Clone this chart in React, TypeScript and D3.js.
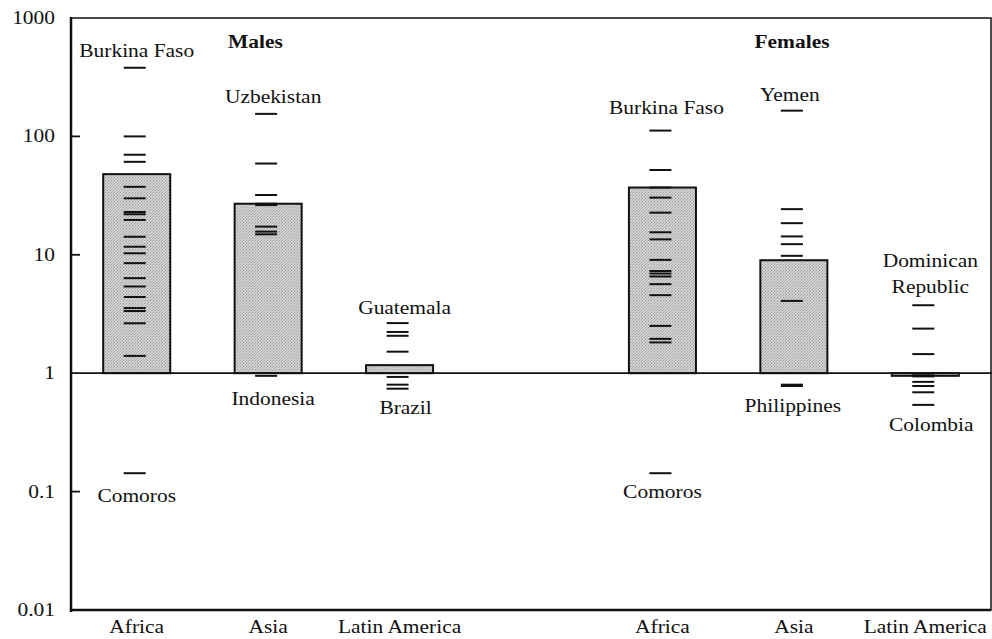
import React from 'react';
import * as d3 from 'd3';

// slots along the x axis (one empty slot between the sexes)
const slots = ['mAfrica', 'mAsia', 'mLatAm', 'gap', 'fAfrica', 'fAsia', 'fLatAm'];
const slotLabels = ['Africa', 'Asia', 'Latin America', '', 'Africa', 'Asia', 'Latin America'];

// regional bar values (ratio, log scale, baseline 1)
const barSlots = ['mAfrica', 'mAsia', 'mLatAm', 'fAfrica', 'fAsia', 'fLatAm'];
const barValues = [48, 27, 1.17, 37, 9, 0.95];

// country values shown as dashes
const maleAfrica = [380, 100, 70, 61, 37.5, 30, 23, 22, 19.7, 14.2, 11.7, 10.3, 8.5, 6.35, 5.4, 4.4, 3.55, 3.35, 2.64, 1.4, 0.143];
const maleAsia = [155, 59, 32, 27, 26.3, 17.3, 15.7, 14.9, 0.95];
const maleLatAm = [2.65, 2.23, 2.07, 1.52, 0.93, 0.8, 0.74];
const femaleAfrica = [112, 52, 37, 30.4, 22.7, 15.5, 13.5, 9.06, 7.3, 6.95, 6.56, 5.65, 4.56, 2.51, 1.95, 1.82, 0.143];
const femaleAsia = [165, 24.3, 18.5, 14.3, 12.3, 9.8, 4.08, 0.8, 0.78];
const femaleLatAm = [3.75, 2.38, 1.45, 0.96, 0.94, 0.845, 0.78, 0.69, 0.54];

const dashSeries: [string, number[]][] = [
  ['mAfrica', maleAfrica],
  ['mAsia', maleAsia],
  ['mLatAm', maleLatAm],
  ['fAfrica', femaleAfrica],
  ['fAsia', femaleAsia],
  ['fLatAm', femaleLatAm],
];

const yTicks = [1000, 100, 10, 1, 0.1, 0.01];
const yTickLabels = ['1000', '100', '10', '1', '0.1', '0.01'];

// country annotations: slot, text, value it refers to
const noteSlots = ['mAfrica', 'mAfrica', 'mAsia', 'mAsia', 'mLatAm', 'mLatAm', 'fAfrica', 'fAfrica', 'fAsia', 'fAsia', 'fLatAm', 'fLatAm', 'fLatAm'];
const noteTexts = ['Burkina Faso', 'Comoros', 'Uzbekistan', 'Indonesia', 'Guatemala', 'Brazil', 'Burkina Faso', 'Comoros', 'Yemen', 'Philippines', 'Dominican', 'Republic', 'Colombia'];
const noteValues = [380, 0.143, 155, 0.95, 2.65, 0.74, 112, 0.143, 165, 0.78, 3.75, 3.75, 0.54];

const W = 992;
const H = 639;
const left = 71;
const right = 991;
const top = 18;
const bottom = 610;
const FONT = '"Liberation Serif", "Times New Roman", serif';
const SX = 1.1;

// offsets of annotation text from the dash they belong to
const noteOffsets = [
  [0, -11], [0, 29], [5, -11], [5, 29], [5, -9], [6, 25],
  [4, -17], [0, 25], [-4, -10], [-1, 26], [5, -38], [5, -12], [6, 26],
];

const App = () => {
  const x = d3.scaleBand<string>().domain(slots).range([left, right]).paddingInner(0.49).paddingOuter(0.245);
  const y = d3.scaleLog().domain([0.01, 1000]).range([bottom, top]);
  const cx = (s: string) => (x(s) as number) + x.bandwidth() / 2;
  const dashW = 22;

  const label = (key: string, tx: number, ty: number, text: string, anchor = 'middle', bold = false) => (
    <text
      key={key}
      transform={`translate(${tx},${ty}) scale(${SX},1)`}
      textAnchor={anchor}
      fontFamily={FONT}
      fontSize={19.5}
      fontWeight={bold ? 'bold' : 'normal'}
      fill="#111"
    >
      {text}
    </text>
  );

  return (
    <svg width={W} height={H} style={{ position: 'absolute', left: 0, top: 0, background: '#fff' }}>
      <defs>
        <pattern id="stipple" width="3" height="3" patternUnits="userSpaceOnUse">
          <rect width="3" height="3" fill="#d2d2d2" />
          <rect x="0" y="0" width="1" height="1" fill="#9c9c9c" />
          <rect x="2" y="1" width="1" height="1" fill="#aaaaaa" />
          <rect x="1" y="2" width="1" height="1" fill="#b5b5b5" />
        </pattern>
      </defs>

      {/* bars */}
      {barSlots.map((s, i) => {
        const v = barValues[i];
        const y0 = y(Math.max(v, 1));
        const y1 = y(Math.min(v, 1));
        return (
          <rect
            key={s}
            x={x(s)}
            y={y0}
            width={x.bandwidth()}
            height={Math.max(y1 - y0, 1)}
            fill="url(#stipple)"
            stroke="#111"
            strokeWidth={2}
          />
        );
      })}

      {/* country dashes */}
      {dashSeries.map(([s, vals]) =>
        vals.map((v, j) => (
          <line
            key={`${s}-${j}`}
            x1={cx(s) - 2 - dashW / 2}
            x2={cx(s) - 2 + dashW / 2}
            y1={y(v)}
            y2={y(v)}
            stroke="#111"
            strokeWidth={2}
          />
        ))
      )}

      {/* frame */}
      <rect x={left} y={top} width={right - left} height={bottom - top} fill="none" stroke="#111" strokeWidth={1.5} />
      <line x1={left} x2={left} y1={top - 1} y2={bottom + 2} stroke="#111" strokeWidth={2.5} />
      <line x1={left} x2={right} y1={bottom} y2={bottom} stroke="#111" strokeWidth={2.5} />
      {/* baseline at 1 */}
      <line x1={left} x2={W} y1={y(1)} y2={y(1)} stroke="#111" strokeWidth={1.8} />

      {/* y ticks */}
      {yTicks.map((t, i) => (
        <g key={`yt-${i}`}>
          {t !== 1000 && t !== 1 && t !== 0.01 && (
            <line x1={left} x2={left + 9} y1={y(t)} y2={y(t)} stroke="#111" strokeWidth={1.8} />
          )}
          {label(`yl-${i}`, 55, y(t) + 6, yTickLabels[i], 'end')}
        </g>
      ))}

      {/* x labels */}
      {slots.map((s, i) => (slotLabels[i] ? label(`xl-${i}`, cx(s), 633, slotLabels[i]) : null))}

      {/* panel titles */}
      {label('males', 228, 48, 'Males', 'start', true)}
      {label('females', 792, 48, 'Females', 'middle', true)}

      {/* annotations */}
      {noteSlots.map((s, i) =>
        label(`n-${i}`, cx(s) + noteOffsets[i][0], y(noteValues[i]) + noteOffsets[i][1], noteTexts[i])
      )}
    </svg>
  );
};

export default App;
